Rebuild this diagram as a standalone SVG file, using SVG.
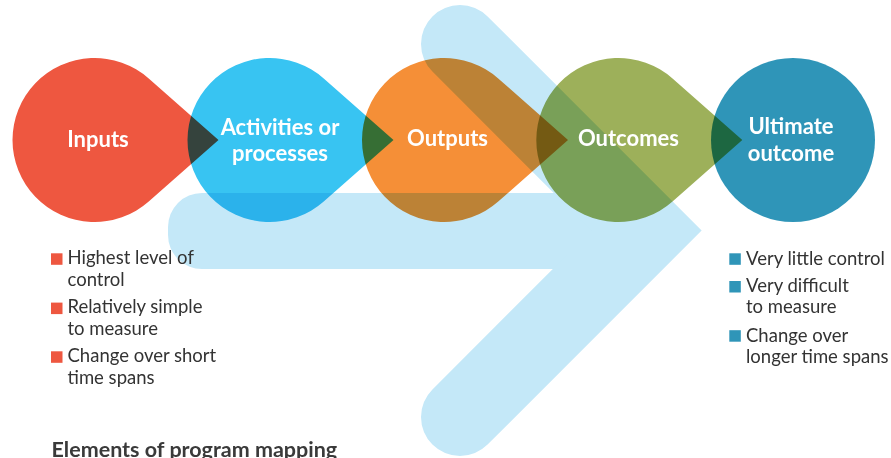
<svg xmlns="http://www.w3.org/2000/svg" width="891" height="458" viewBox="0 0 891 458">
  <style>
    .drop { mix-blend-mode: multiply; }
    .label { font-family: Lato, "Open Sans", "Liberation Sans", sans-serif; font-weight: 700; font-size: 22px; fill: #ffffff; text-anchor: middle; }
    .item { font-family: Lato, "Open Sans", "Liberation Sans", sans-serif; font-weight: 400; font-size: 18.5px; fill: #333333; }
    .title { font-family: Lato, "Open Sans", "Liberation Sans", sans-serif; font-weight: 700; font-size: 21.5px; fill: #3a3a3a; }
    .bred { fill: #EE5740; }
    .bteal { fill: #2F95B8; }
  </style>
  <defs>
    <path id="drop" d="M124,0 L54.23,-61.51 A82,82 0 1 0 54.23,61.51 Z"/>
  </defs>
  <rect x="0" y="0" width="891" height="458" fill="#ffffff"/>

  <g id="background-arrow" fill="#C4E8F8">
    <rect x="168" y="193" width="500" height="76" rx="34" ry="34"/>
    <polyline points="460,44 646.5,230.5 460,417" fill="none" stroke="#C4E8F8" stroke-width="78" stroke-linecap="round" stroke-linejoin="miter" stroke-miterlimit="4"/>
  </g>

  <g id="connectors"></g>

  <g id="node-inputs">
    <use href="#drop" class="drop" transform="translate(94.5,140)" fill="#EE5740"/>
    <text class="label" x="98" y="146.5">Inputs</text>
  </g>
  <g id="node-activities">
    <use href="#drop" class="drop" transform="translate(269.5,140)" fill="#38C4F2"/>
    <text class="label" x="280" y="134.5">Activities or</text>
    <text class="label" x="280" y="160.5">processes</text>
  </g>
  <g id="node-outputs">
    <use href="#drop" class="drop" transform="translate(444,140)" fill="#F58F37"/>
    <text class="label" x="447.5" y="146">Outputs</text>
  </g>
  <g id="node-outcomes">
    <use href="#drop" class="drop" transform="translate(618.3,140)" fill="#9DB05A"/>
    <text class="label" x="628.5" y="146">Outcomes</text>
  </g>
  <g id="node-ultimate">
    <circle class="drop" cx="793" cy="140" r="82" fill="#2F95B8"/>
    <text class="label" x="791" y="134">Ultimate</text>
    <text class="label" x="791" y="160.5">outcome</text>
  </g>

  <g id="left-notes">
    <rect class="bred" x="51" y="253.3" width="11.5" height="11.5"/>
    <text class="item" x="67.5" y="264.3">Highest level of</text>
    <text class="item" x="67.5" y="285.7">control</text>
    <rect class="bred" x="51" y="302.6" width="11.5" height="11.5"/>
    <text class="item" x="67.5" y="313.3">Relatively simple</text>
    <text class="item" x="67.5" y="335">to measure</text>
    <rect class="bred" x="51" y="351.3" width="11.5" height="11.5"/>
    <text class="item" x="67.5" y="362.3">Change over short</text>
    <text class="item" x="67.5" y="384">time spans</text>
  </g>

  <g id="right-notes">
    <rect class="bteal" x="729.3" y="253.3" width="11.5" height="11.5"/>
    <text class="item" x="746" y="264.7">Very little control</text>
    <rect class="bteal" x="729.3" y="281" width="11.5" height="11.5"/>
    <text class="item" x="746" y="291.7">Very difficult</text>
    <text class="item" x="746" y="312.7">to measure</text>
    <rect class="bteal" x="729.3" y="330.2" width="11.5" height="11.5"/>
    <text class="item" x="746" y="341.7">Change over</text>
    <text class="item" x="746" y="362.7">longer time spans</text>
  </g>

  <g id="title">
    <text class="title" x="51.5" y="457">Elements of program mapping</text>
  </g>
</svg>
